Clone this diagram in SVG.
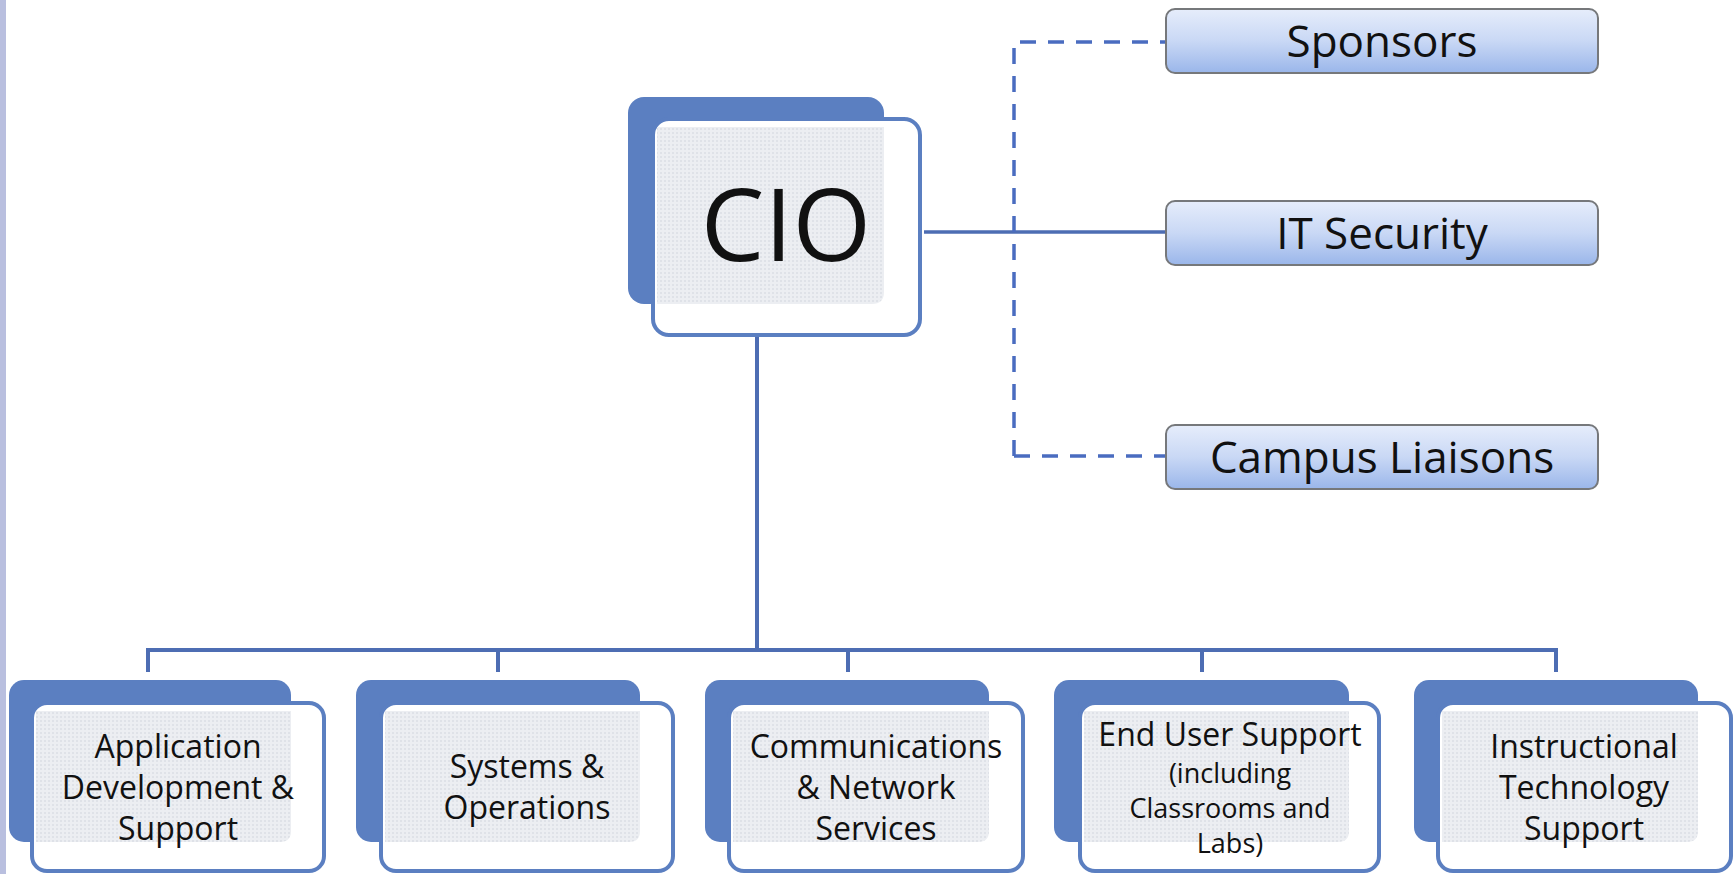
<svg xmlns="http://www.w3.org/2000/svg" width="1733" height="874" viewBox="0 0 1733 874">
<defs>
<linearGradient id="gb" x1="0" y1="0" x2="0" y2="1">
<stop offset="0" stop-color="#e6edfb"/>
<stop offset="0.5" stop-color="#c9d8f5"/>
<stop offset="1" stop-color="#9ab6ea"/>
</linearGradient>
<pattern id="tex" width="4" height="4" patternUnits="userSpaceOnUse">
<rect width="4" height="4" fill="#eceef2"/>
<rect width="2" height="2" fill="#dfe2e8"/>
</pattern>
<style>
.back{fill:#5b7fc1;}
.front{fill:#ffffff;stroke:#5b7fc1;stroke-width:4;}
.tex{fill:url(#tex);}
.rbox{fill:url(#gb);stroke:#76787b;stroke-width:2;}
.t{font-family:"Open Sans","Noto Sans",sans-serif;fill:#111;text-anchor:middle;}
.line{stroke:#4d6db3;stroke-width:4;fill:none;}
.thin{stroke:#4d6db3;stroke-width:3.5;fill:none;}
.dash{stroke:#4a6cc0;stroke-width:3.5;fill:none;stroke-dasharray:16 12;}
</style>
</defs>
<rect x="0" y="0" width="1733" height="874" fill="#ffffff"/>
<rect x="0" y="0" width="6" height="874" fill="#b9bfdf"/>

<g id="connectors">
<path class="line" d="M757 335 V650"/>
<path class="line" d="M148 672 V650 H1556 V672"/>
<path class="line" d="M498 650 V672 M848 650 V672 M1202 650 V672"/>
<path class="thin" d="M924 232 H1166"/>
<path class="dash" d="M1014 456 V42 H1166"/>
<path class="dash" d="M1014 456 H1166"/>
</g>

<g id="cio">
<rect class="back" x="628" y="97" width="256" height="207" rx="16"/>
<rect class="front" x="653" y="119" width="267" height="216" rx="16"/>
<path class="tex" d="M657 127 H884 V292 Q884 304 872 304 H657 Z"/>
<text class="t" x="786" y="261" font-size="101">CIO</text>
</g>

<g id="sponsors">
<rect class="rbox" x="1166" y="9" width="432" height="64" rx="9"/>
<text class="t" x="1382" y="57" font-size="44">Sponsors</text>
</g>
<g id="it-security">
<rect class="rbox" x="1166" y="201" width="432" height="64" rx="9"/>
<text class="t" x="1382" y="249" font-size="44">IT Security</text>
</g>
<g id="campus-liaisons">
<rect class="rbox" x="1166" y="425" width="432" height="64" rx="9"/>
<text class="t" x="1382" y="473" font-size="44">Campus Liaisons</text>
</g>

<g id="app-dev">
<rect class="back" x="9" y="680" width="282" height="162" rx="15"/>
<rect class="front" x="32" y="703" width="292" height="168" rx="15"/>
<path class="tex" d="M36 711 H291 V831 Q291 842 280 842 H36 Z"/>
<text class="t" font-size="32"><tspan x="178" y="758">Application</tspan><tspan x="178" y="799">Development &amp;</tspan><tspan x="178" y="840">Support</tspan></text>
</g>
<g id="systems">
<rect class="back" x="356" y="680" width="284" height="162" rx="15"/>
<rect class="front" x="381" y="703" width="292" height="168" rx="15"/>
<path class="tex" d="M385 711 H640 V831 Q640 842 629 842 H385 Z"/>
<text class="t" font-size="32"><tspan x="527" y="778">Systems &amp;</tspan><tspan x="527" y="819">Operations</tspan></text>
</g>
<g id="comms">
<rect class="back" x="705" y="680" width="284" height="162" rx="15"/>
<rect class="front" x="729" y="703" width="294" height="168" rx="15"/>
<path class="tex" d="M733 711 H989 V831 Q989 842 978 842 H733 Z"/>
<text class="t" font-size="32"><tspan x="876" y="758">Communications</tspan><tspan x="876" y="799">&amp; Network</tspan><tspan x="876" y="840">Services</tspan></text>
</g>
<g id="end-user">
<rect class="back" x="1054" y="680" width="295" height="162" rx="15"/>
<rect class="front" x="1080" y="703" width="299" height="168" rx="15"/>
<path class="tex" d="M1084 711 H1349 V831 Q1349 842 1338 842 H1084 Z"/>
<text class="t" font-size="32" x="1230" y="746">End User Support</text>
<text class="t" font-size="27"><tspan x="1230" y="783">(including</tspan><tspan x="1230" y="818">Classrooms and</tspan><tspan x="1230" y="853">Labs)</tspan></text>
</g>
<g id="instructional">
<rect class="back" x="1414" y="680" width="284" height="162" rx="15"/>
<rect class="front" x="1438" y="703" width="293" height="168" rx="15"/>
<path class="tex" d="M1442 711 H1698 V831 Q1698 842 1687 842 H1442 Z"/>
<text class="t" font-size="32"><tspan x="1584" y="758">Instructional</tspan><tspan x="1584" y="799">Technology</tspan><tspan x="1584" y="840">Support</tspan></text>
</g>
</svg>
